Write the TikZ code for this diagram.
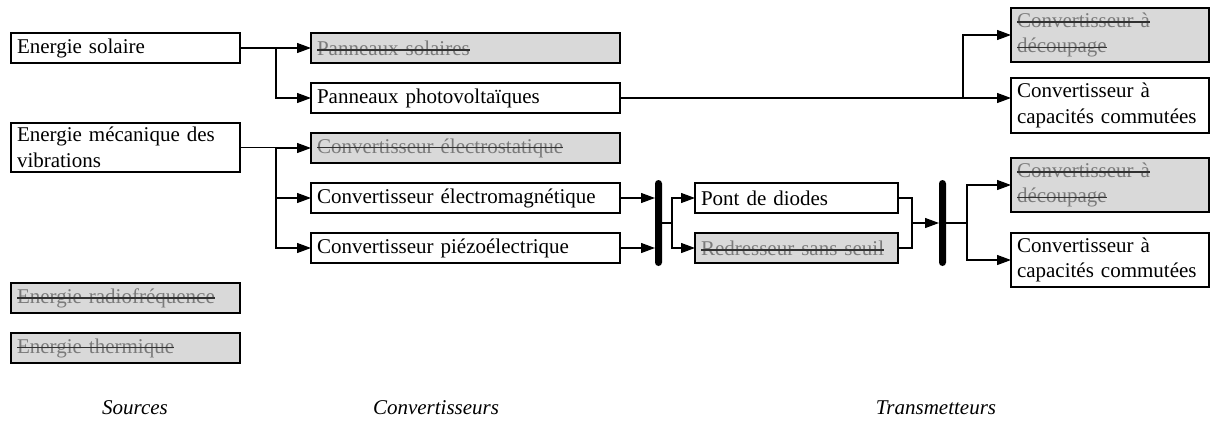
\documentclass[tikz,border=0pt]{standalone}
\usepackage{fontspec}
\setmainfont{Liberation Serif}
\usetikzlibrary{arrows.meta,calc}
\definecolor{deadfill}{HTML}{D9D9D9}
\definecolor{deadtext}{HTML}{7A7A7A}
\definecolor{strkcol}{HTML}{303030}
\newcommand\strk[1]{\leavevmode\setbox0=\hbox{\color{deadtext}#1}\rlap{\copy0}{\color{strkcol}\rule[0.22em]{\wd0}{1.4pt}}}
\tikzset{
  box/.style={draw=black, line width=1.3pt, fill=white, anchor=north west,
    inner xsep=6pt, inner ysep=1pt, outer sep=0pt, align=left,
    font=\fontsize{21}{25.5}\selectfont},
  dead/.style={box, fill=deadfill},
  arr/.style={line width=1.2pt, -{Triangle[length=14pt,width=10pt]}},
  conn/.style={line width=1.2pt},
  bar/.style={fill=black, draw=none, rounded corners=3.5pt, minimum width=7pt, minimum height=86pt, inner sep=0pt, outer sep=0pt},
  lab/.style={font=\fontsize{21}{24}\selectfont\itshape}
}
\begin{document}
\begin{tikzpicture}[x=1pt,y=-1pt]
\useasboundingbox (0,0) rectangle (1212,421);
% sources
\node[box, text width=217pt, minimum height=30pt] (es) at (11,33) {Energie solaire};
\node[box, text width=217pt, minimum height=49pt] (em) at (11,123) {Energie mécanique des\\vibrations};
\node[dead, text width=217pt, minimum height=30pt] (er) at (11,283) {\strk{Energie radiofréquence}};
\node[dead, text width=217pt, minimum height=30pt] (et) at (11,333) {\strk{Energie thermique}};
% converters
\node[dead, text width=297pt, minimum height=30pt] (ps) at (311,33) {\strk{Panneaux solaires}};
\node[box, text width=297pt, minimum height=30pt] (pv) at (311,83) {Panneaux photovoltaïques};
\node[dead, text width=297pt, minimum height=30pt] (ces) at (311,133) {\strk{Convertisseur électrostatique}};
\node[box, text width=297pt, minimum height=30pt] (cem) at (311,183) {Convertisseur électromagnétique};
\node[box, text width=297pt, minimum height=30pt] (cp) at (311,233) {Convertisseur piézoélectrique};
% rectifiers
\node[box, text width=191pt, minimum height=30pt] (pont) at (695,183) {Pont de diodes};
\node[dead, text width=191pt, minimum height=30pt] (red) at (695,233) {\strk{Redresseur sans seuil}};
% transmitters
\node[dead, text width=186pt, minimum height=54pt] (cd1) at (1011,8) {\strk{Convertisseur à}\\\strk{découpage}};
\node[box, text width=186pt, minimum height=55pt] (cc1) at (1011,78) {Convertisseur à\\capacités commutées};
\node[dead, text width=186pt, minimum height=54pt] (cd2) at (1011,158) {\strk{Convertisseur à}\\\strk{découpage}};
\node[box, text width=186pt, minimum height=54pt] (cc2) at (1011,233) {Convertisseur à\\capacités commutées};
% bars
\node[bar] (bar1) at ($(cem.east)!0.5!(cp.east)+(38.5,0)$) {};
\node[bar] (bar2) at ($(pont.east)!0.5!(red.east)+(44.5,0)$) {};
% junctions
\coordinate (js) at ([xshift=36pt]es.east);
\coordinate (jm) at ([xshift=36pt]em.east);
\coordinate (jt) at (pv.east -| 963,0);
\coordinate (j1) at ([xshift=10pt]bar1.east);
\coordinate (j2) at ($(pont.east)!0.5!(red.east)+(14,0)$);
\coordinate (j3) at ([xshift=21pt]bar2.east);
% connectors
\draw[conn] (es.east) -- (js);
\draw[arr] (js) |- (ps.west);
\draw[arr] (js) |- (pv.west);
\draw[conn] (em.east) -- (jm);
\draw[arr] (jm) |- (ces.west);
\draw[arr] (jm) |- (cem.west);
\draw[arr] (jm) |- (cp.west);
\draw[conn] (pv.east) -- (jt);
\draw[arr] (jt) -- (jt -| cc1.west);
\draw[arr] (jt) |- (cd1.west);
\draw[arr] (cem.east) -- (cem.east -| bar1.west);
\draw[arr] (cp.east) -- (cp.east -| bar1.west);
\draw[conn] (bar1.east) -- (j1);
\draw[arr] (j1) |- (pont.west);
\draw[arr] (j1) |- (red.west);
\draw[conn] (pont.east) -| (j2);
\draw[conn] (red.east) -| (j2);
\draw[arr] (j2) -- (bar2.west);
\draw[conn] (bar2.east) -- (j3);
\draw[arr] (j3) |- (cd2.west);
\draw[arr] (j3) |- (cc2.west);
% labels
\node[lab] (ls) at (135,408) {Sources};
\node[lab] (lc) at (436,408) {Convertisseurs};
\node[lab] (lt) at (936,408) {Transmetteurs};
\end{tikzpicture}
\end{document}
